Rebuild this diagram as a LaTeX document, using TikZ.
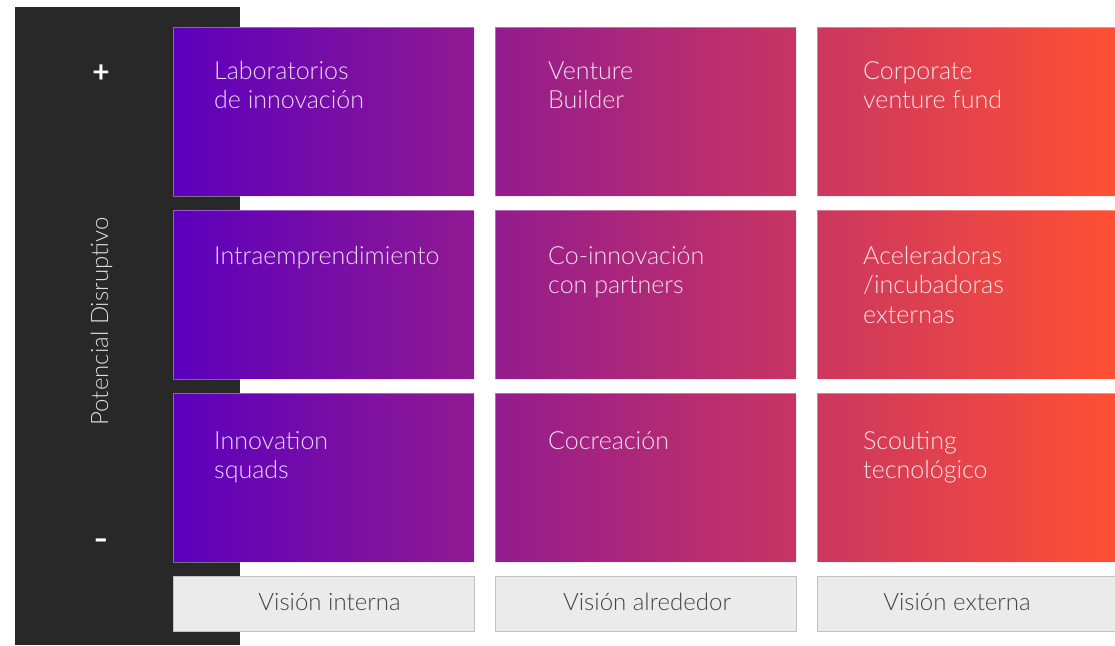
\documentclass[tikz,border=0pt]{standalone}
\usepackage{fontspec}
\setmainfont{Lato Light}[BoldFont=Lato Bold]
\definecolor{panel}{HTML}{282828}
\definecolor{gleft}{HTML}{5C00BD}
\definecolor{gmid}{HTML}{A4237F}
\definecolor{gright}{HTML}{FF5034}
\definecolor{labfill}{HTML}{EBEBEB}
\definecolor{labdraw}{HTML}{C2C2C2}
\definecolor{labtext}{HTML}{444444}
\newcommand{\celllines}[1]{\vtop{\halign{##\hfil\cr#1\crcr}}}
\tikzset{
  cellbox/.style={draw=none, inner sep=0pt, outer sep=0pt, minimum height=169pt, anchor=north west},
  celltext/.style={anchor=base west, inner sep=0pt, text=white, text opacity=0.85,
    font=\fontsize{25}{29.5}\selectfont},
  labbox/.style={draw=labdraw, fill=labfill, line width=0.8pt, inner sep=0pt, outer sep=0pt,
    minimum height=55pt, anchor=north west},
  labtxt/.style={anchor=base, inner sep=0pt, text=labtext, font=\fontsize{24}{26}\selectfont},
  sign/.style={inner sep=0pt, text=white, font=\fontsize{30}{30}\selectfont\bfseries},
}
\begin{document}
\begin{tikzpicture}[x=1pt, y=-1pt]
\useasboundingbox (0,0) rectangle (1115,645);
\fill[white] (0,0) rectangle (1115,645);
% dark side panel
\node[draw=none, fill=panel, inner sep=0pt, outer sep=0pt, minimum width=225pt, minimum height=638pt, anchor=north west] (panel) at (15,7) {};
% cells
\foreach \r/\y in {1/27, 2/210, 3/393}{
  \node[cellbox, minimum width=301pt] (c\r1) at (173,\y) {};
  \node[cellbox, minimum width=301pt] (c\r2) at (495,\y) {};
  \node[cellbox, minimum width=298pt] (c\r3) at (817,\y) {};
}
\shade[left color=gleft, middle color=gmid, right color=gright]
  (c11.north west) rectangle (c11.south east)
  (c12.north west) rectangle (c12.south east)
  (c13.north west) rectangle (c13.south east)
  (c21.north west) rectangle (c21.south east)
  (c22.north west) rectangle (c22.south east)
  (c23.north west) rectangle (c23.south east)
  (c31.north west) rectangle (c31.south east)
  (c32.north west) rectangle (c32.south east)
  (c33.north west) rectangle (c33.south east);
\foreach \n in {c11,c12,c13,c21,c22,c23,c31,c32,c33}{
  \draw[white, draw opacity=0.35, line width=0.8pt] (\n.north west) rectangle (\n.south east);
}
% cell texts
\node[celltext] (t11) at (214,79) {\celllines{Laboratorios\cr de innovación}};
\node[celltext] (t12) at (548,79) {\celllines{Venture\cr Builder}};
\node[celltext] (t13) at (863,79) {\celllines{Corporate\cr venture fund}};
\node[celltext] (t21) at (214,264) {\celllines{Intraemprendimiento}};
\node[celltext] (t22) at (548,264) {\celllines{Co-innovación\cr con partners}};
\node[celltext] (t23) at (863,264) {\celllines{Aceleradoras\cr /incubadoras\cr externas}};
\node[celltext] (t31) at (214,449) {\celllines{Innovation\cr squads}};
\node[celltext] (t32) at (548,449) {\celllines{Cocreación}};
\node[celltext] (t33) at (863,449) {\celllines{Scouting\cr tecnológico}};
% bottom labels
\node[labbox, minimum width=301pt] (l1) at (173,576) {};
\node[labbox, minimum width=301pt] (l2) at (495,576) {};
\node[labbox, minimum width=298pt] (l3) at (817,576) {};
\node[labtxt] (lt1) at (329.5,610) {Visión interna};
\node[labtxt] (lt2) at (647,610) {Visión alrededor};
\node[labtxt] (lt3) at (957,610) {Visión externa};
% axis
\node[sign] (plus) at (101,74) {+};
\node[sign, xscale=1.3] (minus) at (101,544) {-};
\node[anchor=base, rotate=90, inner sep=0pt, text=white, text opacity=0.85, font=\fontsize{24}{24}\selectfont] (axis) at (108,321.5) {Potencial Disruptivo};
\end{tikzpicture}
\end{document}
